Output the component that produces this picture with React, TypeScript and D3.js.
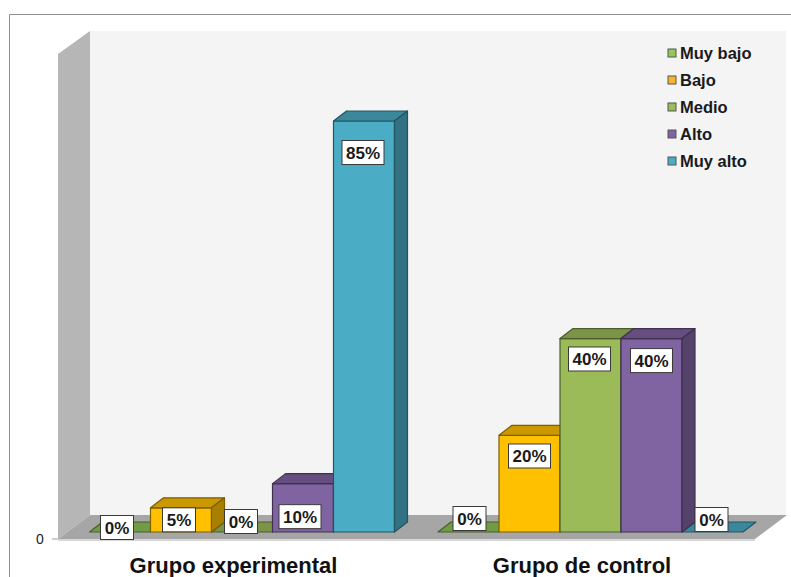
import React from "react";
import * as d3 from "d3";

const groups = ["Grupo experimental", "Grupo de control"];
const seriesNames = ["Muy bajo", "Bajo", "Medio", "Alto", "Muy alto"];
const seriesColors = ["#8EC456", "#FFC000", "#9BBB59", "#8064A2", "#4BACC6"];
const legendColors = ["#92C95A", "#F7B52C", "#9BBB59", "#8064A2", "#4BACC6"];
const experimental = [0, 5, 0, 10, 85];
const control = [0, 20, 40, 40, 0];
const groupValues = [experimental, control];
// label-box centre offsets from the bar's front top-centre (px)
const labelNudge = [
  [[-3, -4.5], [-2, 12], [-1, -10.5], [-3, 33], [-1, 31.5]],
  [[1, -13.5], [0, 20.7], [-1, 20.4], [0, 22], [-1, -12.5]],
];

const W = 791, H = 577;
const depthX = 13, depthY = 10;
const x0 = d3.scaleBand().domain(groups).range([89.5, 786.5]).padding(0);
const x1 = d3.scaleBand().domain(seriesNames).range([0, 305]).padding(0);
const y = d3.scaleLinear().domain([0, 85]).range([532, 121]);
const pts = (p: number[][]) => p.map((q) => q.join(",")).join(" ");
const shade = (c: string, k: number) => d3.rgb(c).darker(k).formatHex();

function Bar({ xPos, w, v, color }: any) {
  const top = y(v), base = y(0);
  const stroke = shade(color, 2);
  return (
    <g stroke={stroke} strokeWidth={1.2} strokeLinejoin="round">
      {v > 0 && <rect x={xPos} y={top} width={w} height={base - top} fill={color} />}
      <polygon
        points={pts([[xPos, top], [xPos + depthX, top - depthY], [xPos + w + depthX, top - depthY], [xPos + w, top]])}
        fill={shade(color, 0.65)}
      />
      {v > 0 && (
        <polygon
          points={pts([[xPos + w, top], [xPos + w + depthX, top - depthY], [xPos + w + depthX, base - depthY], [xPos + w, base]])}
          fill={shade(color, 1.15)}
        />
      )}
    </g>
  );
}

export default function App() {
  const w = x1.bandwidth();
  return (
    <svg
      width={W}
      height={H}
      viewBox={`0 0 ${W} ${H}`}
      style={{ position: "absolute", left: 0, top: 0, background: "#fff", fontFamily: "'Liberation Sans', Arial, sans-serif" }}
    >
      <path d={`M9.5 ${H} V14.5 H${W}`} fill="none" stroke="#8c8c8c" strokeWidth={1} />
      <polygon points={pts([[90, 31], [786, 31], [786, 515], [90, 515]])} fill="#F4F4F4" />
      <polygon points={pts([[58, 54], [90, 31], [90, 515], [58, 539]])} fill="#B6B6B6" />
      <polygon points={pts([[58, 539], [90, 515], [787, 515], [755, 539]])} fill="#A6A6A6" />
      <line x1={58} y1={540} x2={755} y2={540} stroke="#C8C8C8" strokeWidth={1.5} />
      <line x1={52} y1={539} x2={58} y2={539} stroke="#999" />
      <text x={40} y={544} textAnchor="middle" fontSize={14} fill="#222">0</text>

      {groups.map((g, gi) => {
        const order = seriesNames
          .map((s, i) => ({ s, i, v: groupValues[gi][i] }))
          .sort((a, b) => d3.ascending(a.v, b.v));
        return (
          <g key={g}>
            {order.map((d) => (
              <Bar key={d.s} xPos={x0(g)! + x1(d.s)!} w={w} v={d.v} color={seriesColors[d.i]} />
            ))}
          </g>
        );
      })}

      {groups.map((g, gi) =>
        seriesNames.map((s, i) => {
          const v = groupValues[gi][i];
          const cx = x0(g)! + x1(s)! + w / 2 + labelNudge[gi][i][0];
          const cy = y(v) + labelNudge[gi][i][1];
          const bw = v >= 10 ? 42 : 33;
          return (
            <g key={g + s}>
              <rect x={cx - bw / 2} y={cy - 12} width={bw} height={24} fill="#fff" stroke="#3a3a3a" strokeWidth={1} />
              <text x={cx} y={cy + 6} textAnchor="middle" fontSize={17} fontWeight="bold" fill="#1a1a1a">
                {v}%
              </text>
            </g>
          );
        })
      )}

      {groups.map((g) => (
        <text key={g} x={x0(g)! + 144} y={573} textAnchor="middle" fontSize={22} fontWeight="bold" fill="#111">
          {g}
        </text>
      ))}

      {seriesNames.map((s, i) => (
        <g key={s}>
          <rect x={668} y={49 + i * 27} width={8} height={8} fill={legendColors[i]} stroke="#555" strokeWidth={1} />
          <text x={680} y={59 + i * 27} fontSize={16.5} fontWeight="bold" fill="#1a1a1a">
            {s}
          </text>
        </g>
      ))}
    </svg>
  );
}
